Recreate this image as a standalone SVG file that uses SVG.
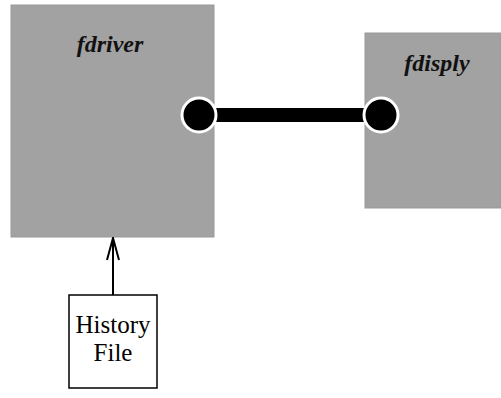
<svg xmlns="http://www.w3.org/2000/svg" width="501" height="398" viewBox="0 0 501 398">
<style>
.proc{fill:#a2a2a2;stroke:#999;stroke-width:1}
.lbl{font-family:"Liberation Serif",serif;font-style:italic;font-weight:bold;font-size:24px;fill:#111;text-anchor:middle}
.txt{font-family:"Liberation Serif",serif;font-size:25px;fill:#000;text-anchor:middle}
.file{fill:#fff;stroke:#000;stroke-width:1.5}
.knob{fill:#000;stroke:#fff;stroke-width:3}
</style>
<defs>
<marker id="arr" viewBox="0 0 24 14" refX="23" refY="7" markerWidth="24" markerHeight="14" markerUnits="userSpaceOnUse" orient="auto">
<path d="M1,1 L23,7 L1,13" fill="none" stroke="#000" stroke-width="2"/>
</marker>
</defs>
<g id="fdriver">
<rect class="proc" x="11" y="5" width="203" height="232"/>
<text class="lbl" x="110" y="52">fdriver</text>
</g>
<g id="fdisply">
<rect class="proc" x="365" y="33" width="136" height="175"/>
<text class="lbl" x="437" y="71">fdisply</text>
</g>
<g id="history">
<rect class="file" x="69" y="295" width="88" height="93"/>
<text class="txt" x="113" y="333">History</text>
<text class="txt" x="113" y="361">File</text>
</g>
<g id="connectors">
<line x1="199" y1="115" x2="381" y2="115" stroke="#000" stroke-width="14"/>
<circle class="knob" cx="199" cy="115" r="17"/>
<circle class="knob" cx="381" cy="115" r="17"/>
<line x1="113" y1="295" x2="113" y2="238" stroke="#000" stroke-width="2" marker-end="url(#arr)"/>
</g>
</svg>
